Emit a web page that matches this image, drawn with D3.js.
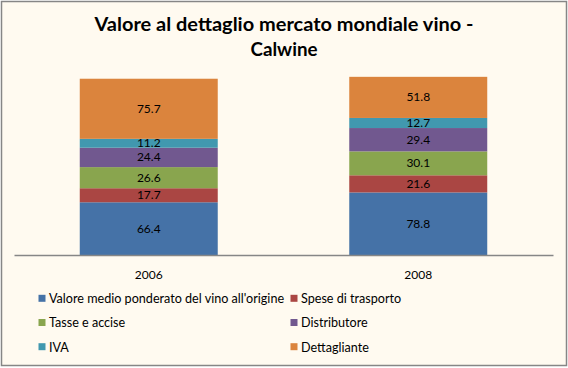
<!DOCTYPE html>
<html>
<head>
<meta charset="utf-8">
<title>Valore al dettaglio mercato mondiale vino</title>
<script src="https://d3js.org/d3.v7.min.js"></script>
<style>
  body { margin: 0; background: #fff; }
  text { font-family: Lato, "Open Sans", sans-serif; fill: #000; }
</style>
</head>
<body>
<div id="chart"></div>
<script>
// categorie (anni) e serie
var years = ["2006", "2008"];
var seriesNames = [
  "Valore medio ponderato del vino all'origine",
  "Spese di trasporto",
  "Tasse e accise",
  "Distributore",
  "IVA",
  "Dettagliante"
];
var seriesColors = ["#4572A7", "#AA4643", "#89A54E", "#71588F", "#4198AF", "#DB843D"];
var values2006 = [66.4, 17.7, 26.6, 24.4, 11.2, 75.7];
var values2008 = [78.8, 21.6, 30.1, 29.4, 12.7, 51.8];
var titleLines = ["Valore al dettaglio mercato mondiale vino -", "Calwine"];

var W = 568, H = 368;
var svg = d3.select("#chart").append("svg")
  .attr("width", W).attr("height", H);

// sfondo + bordo
svg.append("rect")
  .attr("x", 1.5).attr("y", 1.5)
  .attr("width", W - 3).attr("height", H - 4)
  .attr("fill", "#FFFAF0")
  .attr("stroke", "#868686").attr("stroke-width", 1.5);

// titolo - larghezze prese dal riferimento (font Calibri non disponibile)
var titleWidths = [379, 67];
svg.selectAll(".title").data(titleLines).enter().append("text")
  .attr("class", "title")
  .attr("x", 284).attr("y", function(d, i) { return 30.7 + i * 25; })
  .attr("text-anchor", "middle")
  .attr("font-size", 19.5).attr("font-weight", "bold")
  .attr("textLength", function(d, i) { return titleWidths[i]; })
  .attr("lengthAdjust", "spacingAndGlyphs")
  .text(function(d) { return d; });

// tabella per lo stack
var table = years.map(function(y, i) {
  var row = { year: y };
  var vals = i === 0 ? values2006 : values2008;
  seriesNames.forEach(function(s, j) { row[s] = vals[j]; });
  return row;
});
var stacked = d3.stack().keys(seriesNames)(table);

var x = d3.scaleBand().domain(years).range([14, 553]).paddingInner(0).paddingOuter(0);
var y = d3.scaleLinear().domain([0, 250]).range([255, 56.5]);
var barW = x.bandwidth() * 0.512;

var layers = svg.selectAll(".layer").data(stacked).enter().append("g")
  .attr("fill", function(d, i) { return seriesColors[i]; });

layers.selectAll("rect").data(function(d) { return d; }).enter().append("rect")
  .attr("x", function(d) { return x(d.data.year) + (x.bandwidth() - barW) / 2; })
  .attr("width", barW)
  .attr("y", function(d) { return y(d[1]); })
  .attr("height", function(d) { return y(d[0]) - y(d[1]); });

// etichette dati
layers.selectAll("text").data(function(d) { return d.map(function(p) { return { p: p, key: d.key }; }); })
  .enter().append("text")
  .attr("x", function(d) { return x(d.p.data.year) + x.bandwidth() / 2; })
  .attr("y", function(d) { return (y(d.p[0]) + y(d.p[1])) / 2 + 4; })
  .attr("text-anchor", "middle")
  .attr("font-size", 12)
  .style("fill", "#000")
  .text(function(d) { return d.p.data[d.key].toFixed(1); });

// asse x
svg.append("g")
  .attr("transform", "translate(0,255)")
  .call(d3.axisBottom(x).tickSize(0).tickPadding(15))
  .call(function(g) {
    g.select(".domain").attr("stroke", "#868686").attr("stroke-width", 1.5);
    g.selectAll("text").attr("font-size", 12).attr("font-family", "Lato, sans-serif");
  });

// legenda
var legend = svg.selectAll(".leg").data(seriesNames).enter().append("g")
  .attr("transform", function(d, i) {
    return "translate(" + (i % 2 === 0 ? 38.5 : 290.5) + "," + (298.3 + Math.floor(i / 2) * 24.2) + ")";
  });
legend.append("rect")
  .attr("x", 0).attr("y", -3.5).attr("width", 7).attr("height", 7)
  .attr("fill", function(d, i) { return seriesColors[i]; });
legend.append("text")
  .attr("x", 10.5).attr("y", 4.8)
  .attr("font-size", 12.6)
  .text(function(d) { return d; });
</script>
</body>
</html>
